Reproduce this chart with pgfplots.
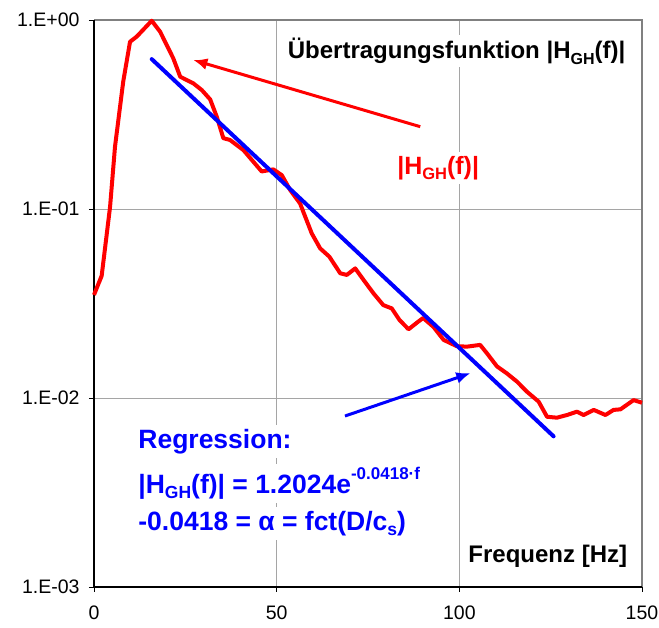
\documentclass[border=0pt]{standalone}
\usepackage{pgfplots}
\pgfplotsset{compat=1.18}
\usetikzlibrary{arrows.meta}
\usepackage{fontspec}
\setmainfont{Liberation Sans}
\definecolor{gridgray}{RGB}{165,165,165}
\definecolor{framegray}{RGB}{128,128,128}
\newcommand{\HGH}[2]{|H\raisebox{-#2}{\fontsize{#1}{#1}\selectfont GH}(f)|}
\begin{document}
\begin{tikzpicture}
\path[use as bounding box] (0,0) rectangle (659bp,628bp);
\begin{axis}[
  at={(94bp,41bp)}, anchor=south west, scale only axis,
  width=548bp, height=567bp,
  xmin=0, xmax=150, ymode=log, ymin=1e-3, ymax=1,
  xtick={0,50,100,150}, ytick={0.001,0.01,0.1,1},
  yticklabels={1.E-03,1.E-02,1.E-01,1.E+00},
  yminorticks=false,
  grid=major, major grid style={gridgray, line width=0.8bp},
  axis line style={draw=none},
  tick pos=left, tick align=outside, major tick length=5bp,
  tick style={black, line width=0.9bp},
  ticklabel style={font=\fontsize{19.5bp}{22bp}\selectfont},
  xticklabel style={yshift=-10bp},
  yticklabel style={xshift=-6bp},
  /pgf/number format/assume math mode=true,
  clip=false,
]
\draw[framegray, line width=2.2bp] (rel axis cs:0,1) -- (rel axis cs:1,1) -- (rel axis cs:1,0);
\draw[black, line width=1.5bp] (rel axis cs:0,1) -- (rel axis cs:0,0) -- (rel axis cs:1,0);

\node[anchor=base east, fill=white, inner sep=3bp, font=\fontsize{24bp}{26bp}\selectfont\bfseries]
  at (axis cs:146.3,0.622) {Übertragungsfunktion \HGH{16bp}{0.22em}};
\node[anchor=base, fill=white, inner sep=4bp, text=red, font=\fontsize{25bp}{28bp}\selectfont\bfseries]
  at (axis cs:94.2,0.153) {\HGH{16.5bp}{0.22em}};
\node[anchor=base east, fill=white, inner sep=3bp, font=\fontsize{24bp}{26bp}\selectfont\bfseries]
  at (axis cs:146.8,0.001356) {Frequenz [Hz]};
\node[anchor=base west, fill=white, inner sep=4bp, text=blue, font=\fontsize{26.5bp}{28bp}\selectfont\bfseries]
  at (axis cs:11.0,0.00543) {Regression:};
\node[anchor=base west, fill=white, inner sep=4bp, text=blue, font=\fontsize{26.5bp}{28bp}\selectfont\bfseries]
  at (axis cs:11.0,0.00314) {\HGH{17.5bp}{0.22em} = 1.2024e\raisebox{0.5em}{\fontsize{17bp}{18bp}\selectfont -0.0418·f}};
\node[anchor=base west, fill=white, inner sep=4bp, text=blue, font=\fontsize{26.5bp}{28bp}\selectfont\bfseries]
  at (axis cs:11.0,0.00200) {-0.0418 = α = fct(D/c\raisebox{-0.22em}{\fontsize{17.5bp}{18bp}\selectfont s})};

\addplot[red, line width=4bp, line join=round] coordinates {
(0,0.0351) (2.1,0.0443) (4.4,0.1028) (5.75,0.2138) (8.0,0.472) (9.86,0.767)
(11.7,0.817) (15.8,0.991) (18.1,0.867) (21.7,0.627) (23.6,0.501) (27.2,0.462)
(29.5,0.426) (31.8,0.380) (33.6,0.308) (35.4,0.237) (37.2,0.232) (40.9,0.205)
(43.6,0.178) (45.9,0.158) (49.1,0.162) (51.4,0.151) (53.7,0.126) (56.4,0.107)
(59.6,0.0743) (61.9,0.0619) (64.4,0.0560) (67.4,0.0457) (69.2,0.0448) (71.5,0.0485)
(73.8,0.0421) (76.5,0.0358) (79.2,0.0310) (81.5,0.0298) (83.6,0.0259) (86.1,0.0231)
(88.8,0.0254) (90.1,0.0265) (92.9,0.0238) (95.7,0.0203) (99.3,0.0188) (102.1,0.0187)
(105.7,0.0191) (107.6,0.0172) (110.3,0.0147) (113.0,0.0135) (115.8,0.0122) (118.5,0.0108)
(121.7,0.00957) (124.0,0.00796) (126.7,0.00787) (129.5,0.00813) (132.2,0.00847) (134.0,0.00813)
(136.8,0.00865) (140.0,0.00813) (142.2,0.00865) (144.1,0.00871) (147.7,0.00975) (150,0.00944)
};
\addplot[blue, line width=4bp, line cap=round] coordinates {(15.8,0.621) (125.8,0.00627)};

\draw[red, line width=3bp, -{Latex[length=14bp,width=12bp]}] (axis cs:89.3,0.2726) -- (axis cs:27.2,0.614);
\draw[blue, line width=3bp, -{Latex[length=14bp,width=12bp]}] (axis cs:68.7,0.00803) -- (axis cs:103.0,0.01352);
\end{axis}
\end{tikzpicture}
\end{document}
